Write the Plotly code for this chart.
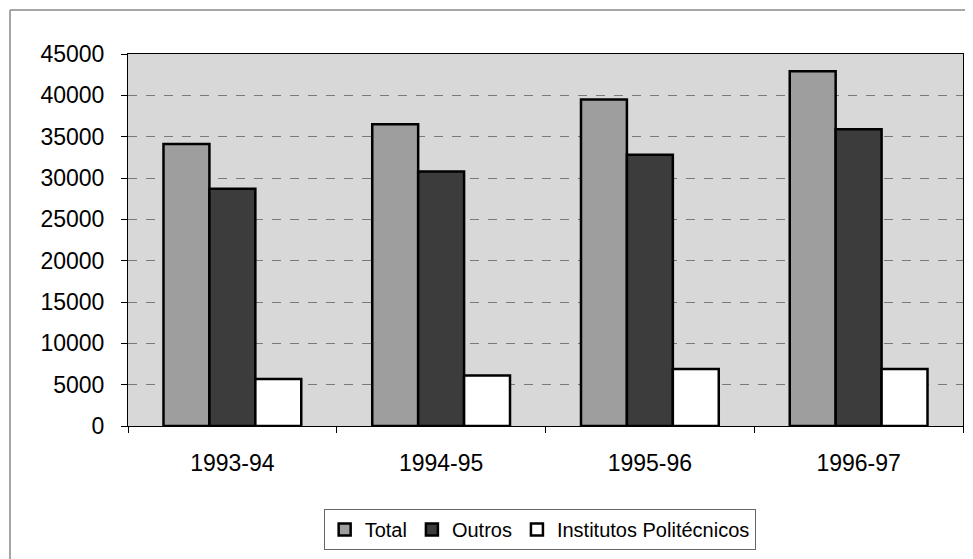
import plotly.graph_objects as go

# dados
anos = ["1993-94", "1994-95", "1995-96", "1996-97"]
total = [34100, 36500, 39500, 42900]
outros = [28700, 30800, 32800, 35900]
politecnicos = [5700, 6100, 6900, 6900]

FONT = "Liberation Sans, Arial, sans-serif"

fig = go.Figure()
fig.add_trace(go.Bar(x=anos, y=total, name="Total",
                     marker=dict(color="#9e9e9e", line=dict(color="black", width=2.5))))
fig.add_trace(go.Bar(x=anos, y=outros, name="Outros",
                     marker=dict(color="#3c3c3c", line=dict(color="black", width=2.5))))
fig.add_trace(go.Bar(x=anos, y=politecnicos, name="Institutos Politécnicos",
                     marker=dict(color="white", line=dict(color="black", width=2.5))))

# a página tem 8px de margem no body -> figura um pouco menor
fig.update_layout(
    width=965, height=551,
    margin=dict(l=120, r=10, t=46, b=132),
    paper_bgcolor="white",
    plot_bgcolor="#d8d8d8",
    barmode="group",
    bargap=0.34,
    bargroupgap=0,
    font=dict(family=FONT, size=23, color="black"),
    legend=dict(
        orientation="h",
        x=0.493, xanchor="center",
        y=-0.22, yanchor="top",
        bordercolor="#666", borderwidth=1,
        font=dict(size=20),
        itemwidth=30,
    ),
    showlegend=True,
    shapes=[
        dict(type="line", xref="paper", yref="paper",
             x0=-0.1413, x1=-0.1413, y0=-0.36, y1=1.118,
             line=dict(color="#888", width=1.5)),
        dict(type="line", xref="paper", yref="paper",
             x0=-0.1413, x1=1.03, y0=1.118, y1=1.118,
             line=dict(color="#888", width=1.5)),
    ],
)

fig.update_yaxes(
    range=[0, 45000], dtick=5000, tickformat="d",
    showgrid=True, gridcolor="#7a7a7a", griddash="dash", gridwidth=1,
    showline=True, linecolor="black", linewidth=1, mirror=True,
    ticks="outside", ticklen=6, tickcolor="black",
    ticklabelstandoff=12,
    tickfont=dict(size=23), zeroline=False,
)
fig.update_xaxes(
    showline=True, linecolor="black", linewidth=1, mirror=True,
    ticks="outside", tickson="boundaries", ticklen=6, tickcolor="black",
    ticklabelstandoff=16,
    tickfont=dict(size=23),
)

fig.write_html("out.html")
